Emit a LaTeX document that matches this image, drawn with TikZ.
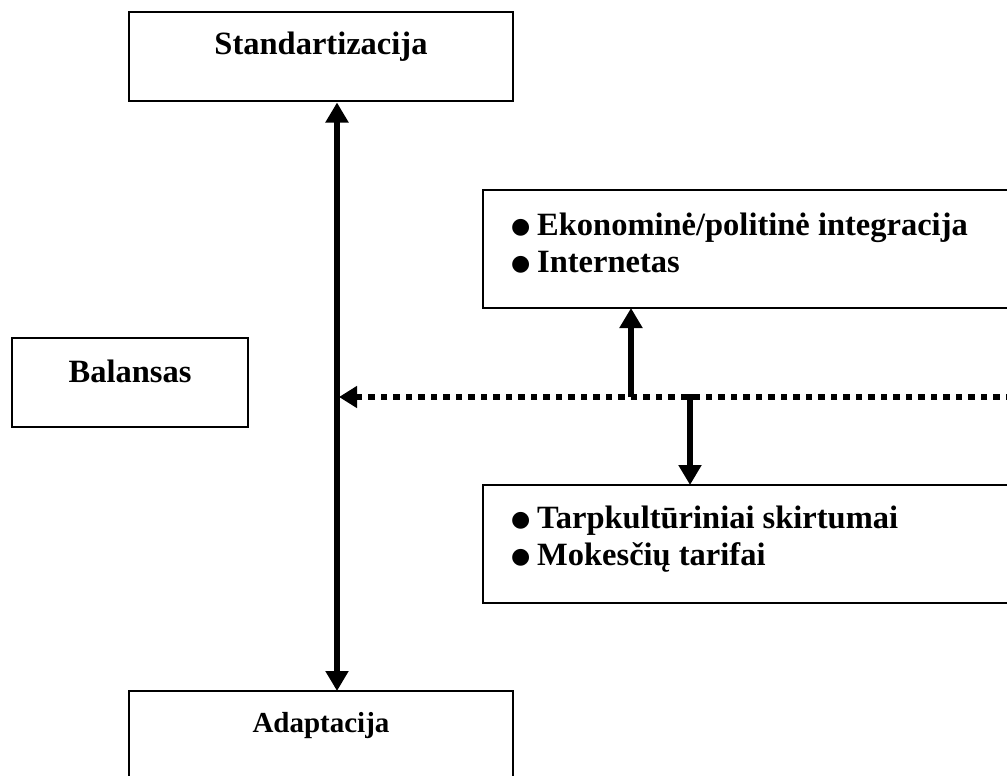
\documentclass[tikz,border=0pt]{standalone}
\usepackage{fontspec}
\setmainfont{Liberation Serif}
\newfontfamily\bulletfont{DejaVu Sans}
\usetikzlibrary{arrows.meta}
\newcommand{\blt}{\makebox[26pt][l]{\raisebox{1.5pt}{\bulletfont\fontsize{22}{22}\selectfont ●}}}
\begin{document}
\begin{tikzpicture}[x=1pt,y=-1pt,
  box/.style={draw, line width=1.7pt, inner sep=0pt, outer sep=0pt, anchor=north west},
  lbl/.style={font=\bfseries\fontsize{32.5}{37}\selectfont, inner sep=0pt, anchor=base},
  smalllbl/.style={font=\bfseries\fontsize{29}{33}\selectfont, inner sep=0pt, anchor=base},
  item/.style={lbl, anchor=base west},
  shaft/.style={line width=6.5pt},
  bigtip/.style={-{Triangle[length=20pt,width=22pt]}},
  dots/.style={line width=6.5pt, dash pattern=on 6.5pt off 6pt, -{Triangle[length=18pt,width=21pt]}}
]
\useasboundingbox (0,0) rectangle (1007,776);
\clip (0,0) rectangle (1007,776);
\fill[white] (0,0) rectangle (1007,776);

% boxes
\node[box, minimum width=384pt, minimum height=89pt] (std) at (129,12) {};
\node[box, minimum width=236pt, minimum height=89pt] (bal) at (12,338) {};
\node[box, minimum width=540pt, minimum height=118pt] (eko) at (483,190) {};
\node[box, minimum width=540pt, minimum height=118pt] (tar) at (483,485) {};
\node[box, minimum width=384pt, minimum height=89pt] (adp) at (129,691) {};

% texts
\node[lbl] (stdT) at (321,55) {Standartizacija};
\node[lbl] (balT) at (130,382) {Balansas};
\node[smalllbl] (adpT) at (321,732) {Adaptacija};
\node[item] (eko1) at (511,235) {\blt Ekonominė/politinė integracija};
\node[item] (eko2) at (511,272) {\blt Internetas};
\node[item] (tar1) at (511,528) {\blt Tarpkultūriniai skirtumai};
\node[item] (tar2) at (511,565) {\blt Mokesčių tarifai};

% connectors
\coordinate (ax) at (337,0);
\draw[shaft, {Triangle[length=20pt,width=22pt]}-{Triangle[length=20pt,width=22pt]}, shorten <=1.5pt]
  (std.south -| ax) -- (adp.north -| ax);
\coordinate (de) at (1012,397);
\coordinate (hit) at (339,397);
\draw[dots] (de) -- (hit);
\coordinate (u0) at (631,397);
\draw[shaft, bigtip] (u0) -- (eko.south -| u0);
\coordinate (d0) at (690,394);
\draw[shaft, bigtip] (d0) -- (tar.north -| d0);
\end{tikzpicture}
\end{document}
